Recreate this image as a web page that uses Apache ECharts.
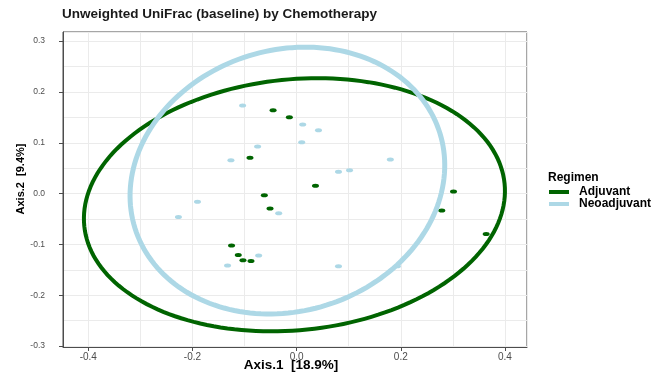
<!DOCTYPE html>
<html>
<head>
<meta charset="utf-8">
<title>Unweighted UniFrac (baseline) by Chemotherapy</title>
<script src="https://cdn.jsdelivr.net/npm/echarts@6.0.0/dist/echarts.min.js"></script>
<style>
  html, body { margin: 0; padding: 0; background: #fff; }
  #echBox { width: 664px; height: 373px; }
</style>
</head>
<body>
<div id="echBox"></div>
<script>
// ordination scores (Axis.1, Axis.2)
var adjuvantX = [-0.0452, -0.0139, -0.0895, 0.0362, 0.3012, -0.0620, -0.0510, 0.2787, 0.3639, -0.1249, -0.1120, -0.1030, -0.0876]
var adjuvantY = [0.1641, 0.1503, 0.0703, 0.0152, 0.0039, -0.0033, -0.0295, -0.0335, -0.0794, -0.1024, -0.1207, -0.1314, -0.1326]
var neoX = [-0.1037, 0.0117, 0.0420, 0.0098, -0.0749, -0.1261, 0.1799, 0.1016, 0.0804, -0.1903, -0.2269, -0.0344, -0.0729, -0.1326, 0.0804, 0.1934]
var neoY = [0.1733, 0.1359, 0.1247, 0.1010, 0.0926, 0.0656, 0.0670, 0.0459, 0.0427, -0.0163, -0.0459, -0.0388, -0.1221, -0.1418, -0.1432, -0.1432]

// ellipses: centre x, centre y, radius along x, radius along y, tilt (deg)
var adjuvantEllipse = [-0.0042, -0.0221, 0.4055, 0.2468, 5.8]
var neoEllipse = [-0.0177, 0.0256, 0.3066, 0.2570, 17.3]

var xTicks = [-0.4, -0.2, 0.0, 0.2, 0.4]
var yTicks = [-0.3, -0.2, -0.1, 0.0, 0.1, 0.2, 0.3]
var xRange = [-0.4485, 0.4423]
var yRange = [-0.302, 0.318]

var groups = ['Adjuvant', 'Neoadjuvant']
var colors = ['#006400', '#add8e6']

var font = "'Liberation Sans', Arial, sans-serif"

function pairs (xs, ys) {
  return xs.map(function (x, i) { return [x, ys[i]] })
}

function drawEllipse (params, api) {
  var c = api.coord([api.value(0), api.value(1)])
  var r = api.size([api.value(2), api.value(3)])
  var t = api.value(4) * Math.PI / 180
  var pts = []
  for (var k = 0; k < 180; k++) {
    var a = k / 180 * Math.PI * 2
    var ex = r[0] * Math.cos(a)
    var ey = r[1] * Math.sin(a)
    pts.push([c[0] + ex * Math.cos(t) - ey * Math.sin(t), c[1] - (ex * Math.sin(t) + ey * Math.cos(t))])
  }
  return {
    type: 'polygon',
    shape: { points: pts },
    style: { fill: 'none', stroke: api.visual('color'), lineWidth: params.seriesIndex === 2 ? 4 : 5 }
  }
}

var myChart = echarts.init(document.getElementById('echBox'))

var option = {
  backgroundColor: '#fff',
  animation: false,
  textStyle: { fontFamily: font },
  title: [
    {
      text: 'Unweighted UniFrac (baseline) by Chemotherapy',
      left: 62,
      top: 7,
      padding: 0,
      textStyle: { fontSize: 13.5, fontWeight: 'bold', color: '#1a1a1a', fontFamily: font }
    },
    {
      text: 'Regimen',
      left: 548,
      top: 172,
      padding: 0,
      textStyle: { fontSize: 12, fontWeight: 'bold', color: '#000', fontFamily: font }
    }
  ],
  legend: {
    orient: 'vertical',
    left: 549,
    top: 186,
    itemGap: 0,
    itemWidth: 20,
    itemHeight: 4,
    selectedMode: false,
    padding: 0,
    textStyle: { fontSize: 12, fontWeight: 'bold', color: '#000', lineHeight: 11, padding: [0, 0, 0, 5], fontFamily: font },
    data: [
      { name: groups[0], icon: 'rect', itemStyle: { color: colors[0] } },
      { name: groups[1], icon: 'rect', itemStyle: { color: colors[1] } }
    ]
  },
  grid: {
    left: 63,
    right: 137,
    top: 32,
    bottom: 26,
    show: true,
    borderColor: '#4d4d4d',
    borderWidth: 1
  },
  xAxis: [
    {
      // grid lines only (major + minor)
      type: 'value',
      min: xRange[0],
      max: xRange[1],
      splitNumber: 9,
      axisLine: { show: false, onZero: false },
      axisTick: { show: false },
      axisLabel: { show: false },
      splitLine: { show: true, lineStyle: { color: '#ebebeb', width: 1 } }
    },
    {
      type: 'value',
      position: 'bottom',
      min: xRange[0],
      max: xRange[1],
      axisLine: { show: true, onZero: false, lineStyle: { color: '#4d4d4d', width: 1 } },
      axisTick: { show: true, customValues: xTicks, length: 4, lineStyle: { color: '#4d4d4d' } },
      axisLabel: {
        customValues: xTicks,
        margin: 5,
        fontSize: 10,
        color: '#4d4d4d',
        fontFamily: font,
        formatter: function (v) { return v.toFixed(1) }
      },
      splitLine: { show: false }
    }
  ],
  yAxis: [
    {
      type: 'value',
      min: yRange[0],
      max: yRange[1],
      splitNumber: 12,
      axisLine: { show: false, onZero: false },
      axisTick: { show: false },
      axisLabel: { show: false },
      splitLine: { show: true, lineStyle: { color: '#ebebeb', width: 1 } }
    },
    {
      type: 'value',
      position: 'left',
      min: yRange[0],
      max: yRange[1],
      axisLine: { show: true, onZero: false, lineStyle: { color: '#4d4d4d', width: 1 } },
      axisTick: { show: true, customValues: yTicks, length: 4, lineStyle: { color: '#4d4d4d' } },
      axisLabel: {
        customValues: yTicks,
        margin: 18,
        fontSize: 8.5,
        color: '#4d4d4d',
        fontFamily: font,
        formatter: function (v) { return v.toFixed(1) }
      },
      splitLine: { show: false }
    }
  ],
  graphic: [
    {
      type: 'text',
      x: 291,
      y: 365,
      style: { text: 'Axis.1  [18.9%]', font: 'bold 13.5px ' + font, fill: '#000', align: 'center', verticalAlign: 'middle' }
    },
    {
      type: 'text',
      x: 21,
      y: 179,
      rotation: Math.PI / 2,
      style: { text: 'Axis.2  [9.4%]', font: 'bold 11px ' + font, fill: '#000', align: 'center', verticalAlign: 'middle' }
    }
  ],
  series: [
    {
      name: groups[0],
      type: 'scatter',
      symbol: 'circle',
      symbolSize: [7, 4],
      itemStyle: { color: colors[0], opacity: 1 },
      data: pairs(adjuvantX, adjuvantY)
    },
    {
      name: groups[1],
      type: 'scatter',
      symbol: 'circle',
      symbolSize: [7, 4],
      itemStyle: { color: colors[1], opacity: 1 },
      data: pairs(neoX, neoY)
    },
    {
      name: groups[0],
      type: 'custom',
      renderItem: drawEllipse,
      itemStyle: { color: colors[0] },
      encode: { x: 0, y: 1 },
      data: [adjuvantEllipse],
      z: 3
    },
    {
      name: groups[1],
      type: 'custom',
      renderItem: drawEllipse,
      itemStyle: { color: colors[1] },
      encode: { x: 0, y: 1 },
      data: [neoEllipse],
      z: 3
    }
  ]
}

myChart.setOption(option)
</script>
</body>
</html>
